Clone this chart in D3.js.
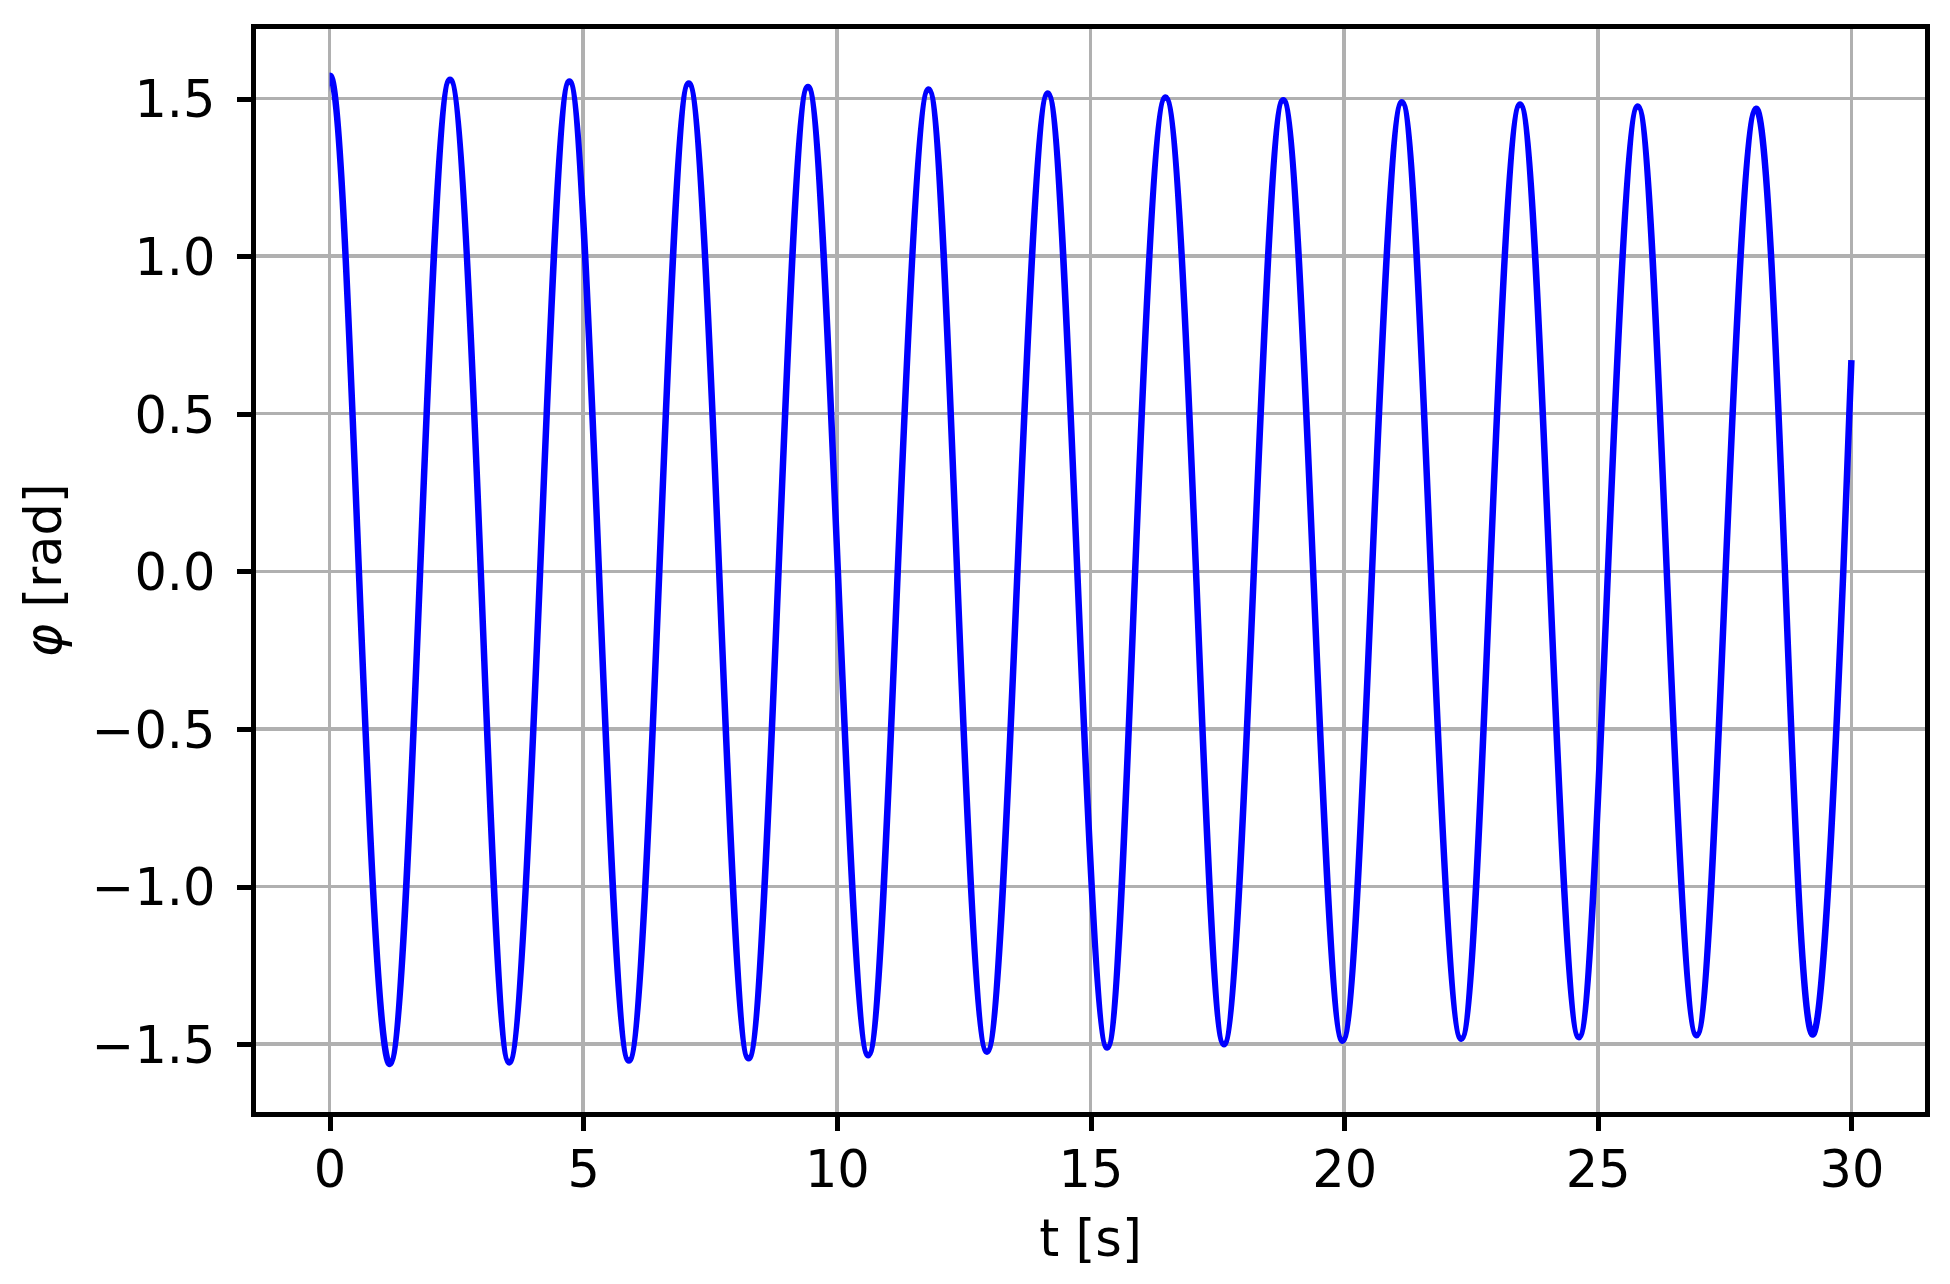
<!DOCTYPE html>
<html>
<head>
<meta charset="utf-8">
<script src="https://cdn.jsdelivr.net/npm/d3@7"></script>
<style>
  html, body { margin: 0; padding: 0; background: #fff; }
  svg { display: block; }
  text { font-family: "DejaVu Sans", sans-serif; fill: #000; }
</style>
</head>
<body>
<svg id="chart" width="1950" height="1284"></svg>
<script>
// Values: time (s) and angle (rad) at extrema, zero crossings and the end point
const tValues = [0, 0.578, 1.187, 1.785, 2.374, 2.98, 3.54, 4.15, 4.727, 5.31, 5.90, 6.50, 7.08, 7.68, 8.26, 8.85, 9.43,
  10.02, 10.62, 11.20, 11.81, 12.37, 12.96, 13.56, 14.16, 14.74, 15.33, 15.88, 16.48, 17.08, 17.63, 18.22, 18.80,
  19.39, 19.97, 20.55, 21.14, 21.71, 22.31, 22.88, 23.47, 24.05, 24.63, 25.20, 25.79, 26.36, 26.95, 27.52, 28.12,
  28.69, 29.26, 29.84, 30.0];
const phiValues = [1.571, 0, -1.563, 0, 1.560, 0, -1.558, 0, 1.554, 0, -1.552, 0, 1.548, 0, -1.545, 0, 1.537,
  0, -1.535, 0, 1.529, 0, -1.524, 0, 1.516, 0, -1.511, 0, 1.503, 0, -1.500, 0, 1.495,
  0, -1.489, 0, 1.488, 0, -1.483, 0, 1.481, 0, -1.478, 0, 1.475, 0, -1.472, 0, 1.468,
  0, -1.466, 0, 0.67];
const xTicks = [0, 5, 10, 15, 20, 25, 30];
const yTicks = [-1.5, -1.0, -0.5, 0.0, 0.5, 1.0, 1.5];
const xLabel = "t [s]";
const yLabelSymbol = "φ";
const yLabelUnit = " [rad]";

const svg = d3.select("#chart");
const plot = { left: 253.5, right: 1927.5, top: 26.5, bottom: 1114.3 };

const x = d3.scaleLinear().domain([-1.5, 31.5]).range([plot.left, plot.right]);
const y = d3.scaleLinear().domain([-1.7226, 1.7286]).range([plot.bottom, plot.top]);

const gridColor = "#b0b0b0";
const fmtY = v => (v < 0 ? "\u2212" : "") + Math.abs(v).toFixed(1);

// grid
const grid = svg.append("g").attr("shape-rendering", "crispEdges");
grid.selectAll("line.gx").data(xTicks).join("line")
  .attr("x1", d => x(d)).attr("x2", d => x(d))
  .attr("y1", plot.top).attr("y2", plot.bottom)
  .attr("stroke", gridColor).attr("stroke-width", 3.5);
grid.selectAll("line.gy").data(yTicks).join("line")
  .attr("y1", d => y(d)).attr("y2", d => y(d))
  .attr("x1", plot.left).attr("x2", plot.right)
  .attr("stroke", gridColor).attr("stroke-width", 3.5);

// data line: the series starts at rest at its maximum, so the spline is given a
// symmetric boundary (the first points mirrored about t = 0) and clipped at t = 0
const data = tValues.map((t, i) => [t, phiValues[i]]);
const mirrored = data.slice(1, 3).reverse().map(d => [-d[0], d[1]]);
const curveData = mirrored.concat(data);
svg.append("defs").append("clipPath").attr("id", "clip")
  .append("rect").attr("x", x(tValues[0])).attr("y", plot.top)
  .attr("width", plot.right - x(tValues[0])).attr("height", plot.bottom - plot.top);
svg.append("path")
  .datum(curveData)
  .attr("clip-path", "url(#clip)")
  .attr("fill", "none")
  .attr("stroke", "#0000ff")
  .attr("stroke-width", 6.5)
  .attr("stroke-linejoin", "round")
  .attr("d", d3.line().x(d => x(d[0])).y(d => y(d[1])).curve(d3.curveNatural));

// axes
const xAxis = d3.axisBottom(x).tickValues(xTicks).tickSize(17).tickPadding(19).tickFormat(d3.format("d"));
const yAxis = d3.axisLeft(y).tickValues(yTicks).tickSize(17).tickPadding(21).tickFormat(fmtY);

const gx = svg.append("g").attr("transform", `translate(0,${plot.bottom})`).call(xAxis);
const gy = svg.append("g").attr("transform", `translate(${plot.left},0)`).call(yAxis);
[gx, gy].forEach(g => {
  g.select(".domain").remove();
  g.selectAll(".tick line").attr("stroke", "#000").attr("stroke-width", 5).attr("shape-rendering", "crispEdges");
  g.selectAll(".tick text").attr("font-family", "DejaVu Sans").attr("font-size", 51).attr("fill", "#000");
});
gy.selectAll(".tick text").attr("dy", "0.36em");

// spines
svg.append("rect")
  .attr("x", plot.left).attr("y", plot.top)
  .attr("width", plot.right - plot.left).attr("height", plot.bottom - plot.top)
  .attr("fill", "none").attr("stroke", "#000").attr("stroke-width", 5)
  .attr("shape-rendering", "crispEdges");

// axis labels
svg.append("text")
  .attr("x", (plot.left + plot.right) / 2).attr("y", 1256)
  .attr("text-anchor", "middle").attr("font-size", 51)
  .text(xLabel);

const yl = svg.append("text")
  .attr("transform", `translate(61,${(plot.top + plot.bottom) / 2}) rotate(-90)`)
  .attr("text-anchor", "middle").attr("font-size", 51);
yl.append("tspan").attr("font-style", "italic").text(yLabelSymbol);
yl.append("tspan").text(yLabelUnit);
</script>
</body>
</html>
